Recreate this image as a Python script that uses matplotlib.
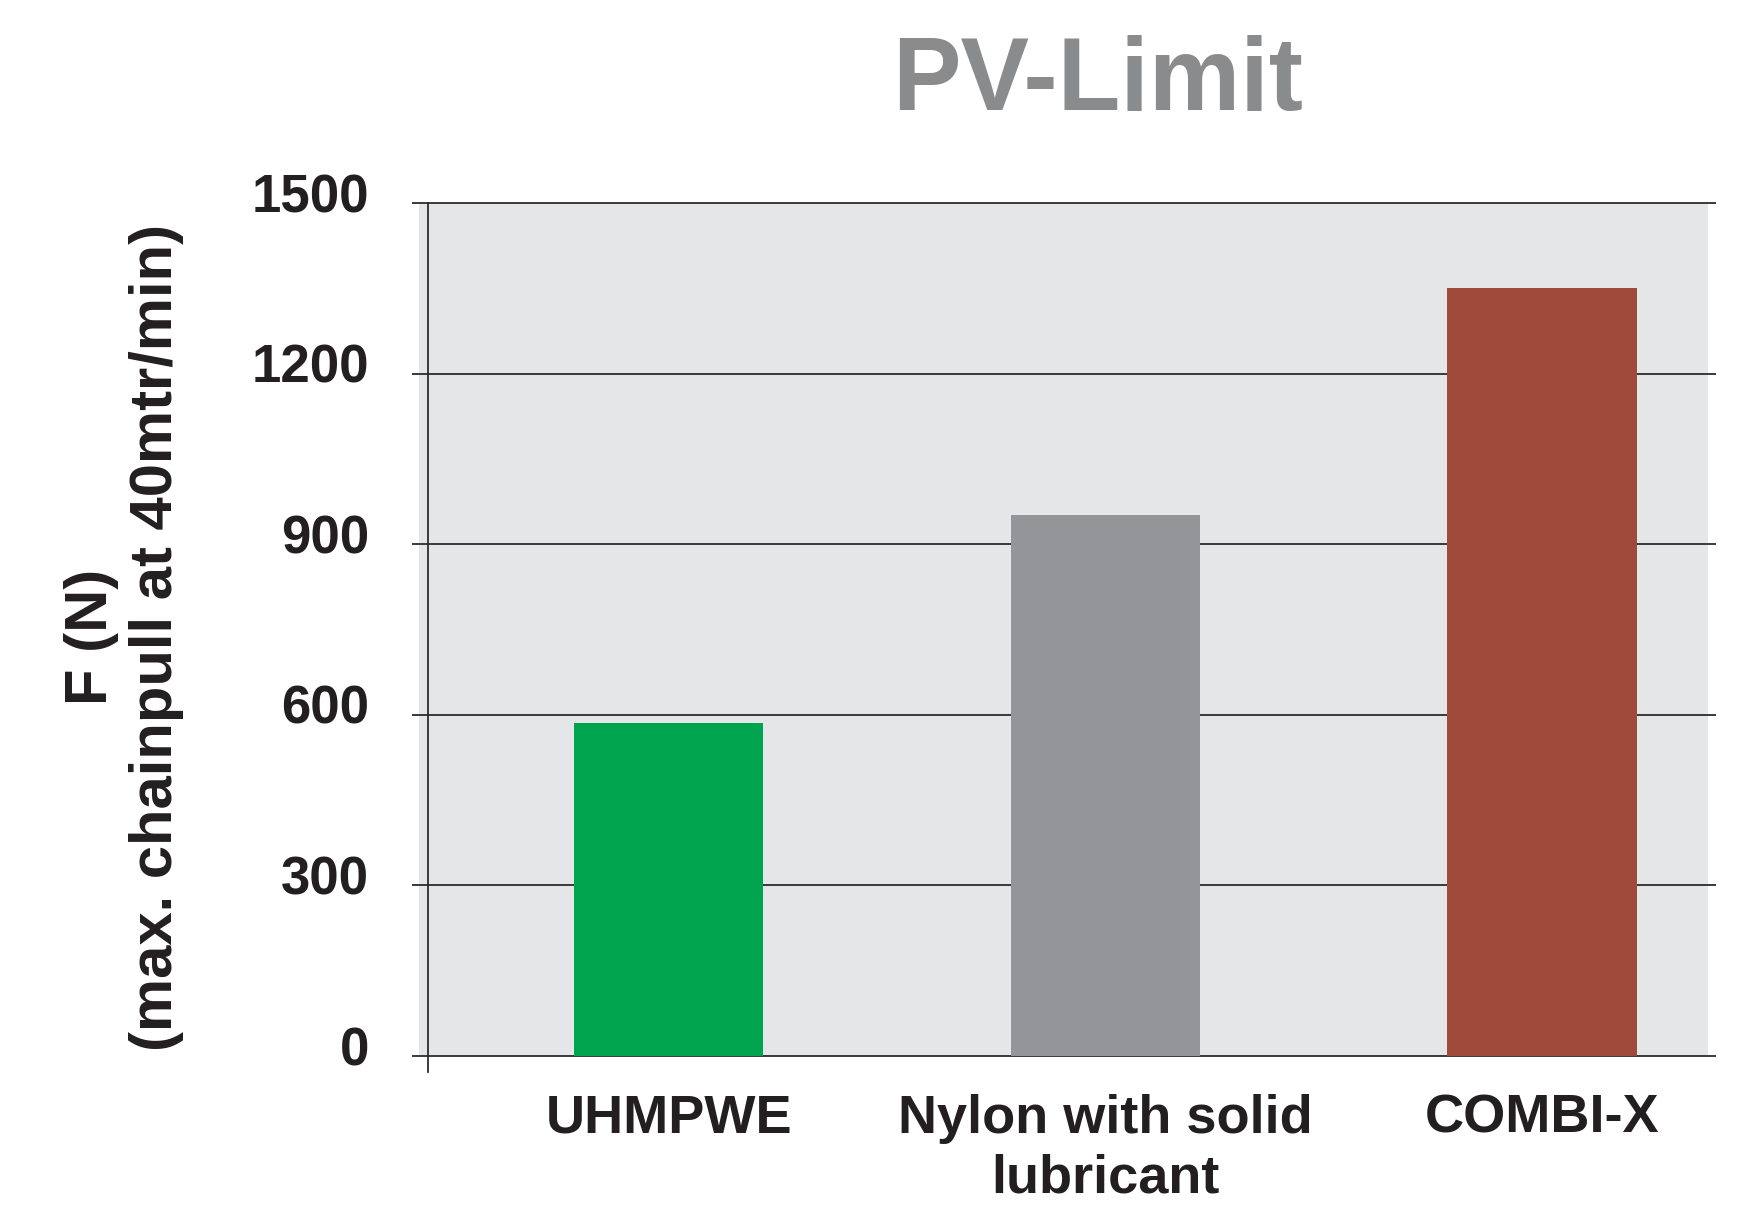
import matplotlib
matplotlib.use("Agg")
import matplotlib.pyplot as plt
import matplotlib.transforms as mtransforms

plt.rcParams['font.family'] = ['Liberation Sans', 'DejaVu Sans']
plt.rcParams['font.weight'] = 'bold'

# data
materials = ["UHMPWE", "Nylon with solid\nlubricant", "COMBI-X"]
chainpull = [585, 952, 1350]
bar_colors = ["#00a34e", "#939598", "#a04a3c"]
y_ticks = [0, 300, 600, 900, 1200, 1500]

text_col = "#231f20"
bg_col = "#e5e6e8"

fig = plt.figure(figsize=(17.53, 12.08), dpi=100)
ax = fig.add_axes([0.2390, 0.1258, 0.7353, 0.7061])
ax.set_facecolor(bg_col)

x = list(range(len(materials)))
ax.bar(x, chainpull, width=0.433, color=bar_colors, zorder=3)

ax.set_xlim(-0.572, 2.380)
ax.set_ylim(0, 1500)

# grid lines reach a bit past the grey area on both sides
ax.hlines(y_ticks, -0.0054, 1.0062, transform=ax.get_yaxis_transform(),
          colors="#2b2b2b", linewidth=1.3, clip_on=False, zorder=2)
# y axis line, sticking out below zero
ax.plot([0.007, 0.007], [-0.019, 1.0], transform=ax.transAxes,
        color="#2b2b2b", linewidth=1.3, clip_on=False, zorder=4)

for s in ax.spines.values():
    s.set_visible(False)

ax.set_yticks(y_ticks)
ax.set_yticklabels([str(v) for v in y_ticks], fontsize=38, fontweight='bold', color=text_col)
ax.tick_params(axis='y', length=0, pad=36)
shift = mtransforms.ScaledTranslation(0, 7.5 / 72, fig.dpi_scale_trans)
for lab in ax.get_yticklabels():
    lab.set_transform(lab.get_transform() + shift)

ax.set_xticks(x)
ax.set_xticklabels(materials, fontsize=39, fontweight='bold', color=text_col, linespacing=1.25)
ax.tick_params(axis='x', length=0, pad=27)

fig.text(0.0707, 0.4727, "F (N)\n(max. chainpull at 40mtr/min)", rotation=90,
         ha='center', va='center', multialignment='center', fontsize=43,
         fontweight='bold', color=text_col, linespacing=1.25)

fig.text(0.6264, 0.909, "PV-Limit", ha='center', va='baseline', fontsize=74,
         fontweight='bold', color="#8a8b8d")

fig.savefig("out.png", dpi=100)
